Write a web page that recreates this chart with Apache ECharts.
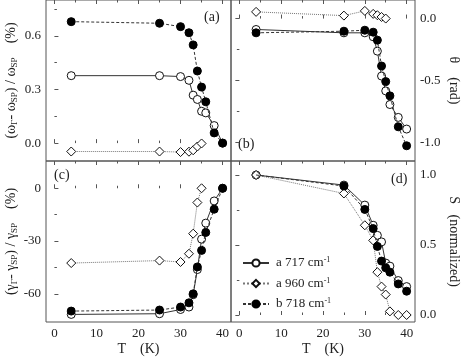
<!DOCTYPE html>
<html>
<head>
<meta charset="utf-8">
<script src="https://cdn.jsdelivr.net/npm/echarts@6/dist/echarts.min.js"></script>
<style>
  html, body { margin: 0; padding: 0; background: #fff; }
  #chart { width: 463px; height: 358px; }
</style>
</head>
<body>
<div id="chart"></div>
<script>
// temperatures (K)
const temps = [4, 25, 30, 32, 33, 34, 35, 36, 38, 40];
const temps960 = [4, 25, 30, 32, 33, 34, 35];

// (a) frequency shift (%)
const omegaA717 = [0.377, 0.377, 0.372, 0.351, 0.268, 0.244, 0.178, 0.169, 0.098, 0.0];
const omegaA960 = [-0.047, -0.047, -0.05, -0.048, -0.04, -0.019, -0.002];
const omegaB718 = [0.679, 0.670, 0.651, 0.617, 0.549, 0.403, 0.313, 0.231, 0.057, 0.0];

// (b) theta (rad)
const thetaA717 = [-0.088, -0.115, -0.115, -0.147, -0.263, -0.464, -0.584, -0.694, -0.798, -0.892];
const thetaA960 = [0.054, 0.024, 0.062, 0.038, 0.027, 0.013, 0.0];
const thetaB718 = [-0.115, -0.102, -0.094, -0.11, -0.174, -0.383, -0.509, -0.624, -0.874, -1.027];

// (c) linewidth change (%)
const gammaA717 = [-71.7, -71.3, -68.9, -67.5, -60.5, -46.2, -28.9, -19.8, -7.2, 0];
const gammaA960 = [-42.5, -41.1, -41.9, -37.2, -25.8, -8.1, 0];
const gammaB718 = [-69.8, -69.2, -67.5, -65.1, -60.0, -44.7, -35.3, -25.1, -11.9, 0];

// (d) S normalized
const sA717 = [1.0, 0.928, 0.785, 0.641, 0.569, 0.522, 0.371, 0.349, 0.246, 0.203];
const sA960 = [1.0, 0.868, 0.641, 0.533, 0.306, 0.203, 0.146, 0.026, 0.0, 0.0];
const sB718 = [1.0, 0.921, 0.754, 0.617, 0.49, 0.385, 0.337, 0.306, 0.222, 0.17];

// ticks
const xMajor = [0, 10, 20, 30, 40];
const xMinor = [5, 15, 25, 35];
const yMajorA = [0, 0.3, 0.6], yMinorA = [0.15, 0.45, 0.75];
const yMajorB = [0, -0.5, -1.0], yMinorB = [-0.25, -0.75];
const yMajorC = [0, -30, -60], yMinorC = [-15, -45];
const yMajorD = [0, 0.5, 1.0], yMinorD = [0.25, 0.75];

const FONT = "Liberation Serif";
const INK = "#222";
const FRAME = "#555";

const grids = [
  { left: 46, top: 0, width: 185, height: 161 },
  { left: 231, top: 0, width: 184, height: 161 },
  { left: 46, top: 161, width: 185, height: 161 },
  { left: 231, top: 161, width: 184, height: 161 }
];

const panels = [
  {
    ymin: -0.1, ymax: 0.8, major: yMajorA, minor: yMinorA, pos: "left", fmt: v => v.toFixed(1),
    name: "(ω{sub|Γ}- ω{sub|SP}) / ω{sub|SP}    (%)", gap: 27, rotate: 90,
    a717: omegaA717, a960: omegaA960, b718: omegaB718, t960: temps960
  },
  {
    ymin: -1.15, ymax: 0.15, major: yMajorB, minor: yMinorB, pos: "right", fmt: v => v.toFixed(1),
    name: "θ    (rad)", gap: 32, rotate: -90,
    a717: thetaA717, a960: thetaA960, b718: thetaB718, t960: temps960
  },
  {
    ymin: -76, ymax: 15.5, major: yMajorC, minor: yMinorC, pos: "left", fmt: v => String(v),
    name: "(γ{sub|Γ}- γ{sub|SP}) / γ{sub|SP}    (%)", gap: 27, rotate: 90,
    a717: gammaA717, a960: gammaA960, b718: gammaB718, t960: temps960
  },
  {
    ymin: -0.05, ymax: 1.1, major: yMajorD, minor: yMinorD, pos: "right", fmt: v => v.toFixed(1),
    name: "S   (normalized)", gap: 32, rotate: -90,
    a717: sA717, a960: sA960, b718: sB718, t960: temps
  }
];

const nameRich = {
  sub: { fontFamily: FONT, fontSize: 9, color: INK, verticalAlign: "bottom", padding: [6, 0, 0, 0] }
};

let xAxes = [], yAxes = [], series = [];

grids.forEach((g, i) => {
  const p = panels[i];
  const bottomRow = i >= 2;
  [["bottom", xMajor, 4], ["bottom", xMinor, 2.5], ["top", xMajor, 4], ["top", xMinor, 2.5]].forEach((d, k) => {
    const withLabel = bottomRow && k === 0;
    xAxes.push({
      type: "value", gridIndex: i, position: d[0], min: -2, max: 42,
      axisLine: { show: false },
      splitLine: { show: false },
      axisTick: { show: true, inside: true, length: d[2], customValues: d[1], lineStyle: { color: FRAME } },
      axisLabel: {
        show: withLabel, customValues: xMajor, margin: 5,
        fontFamily: FONT, fontSize: 13, color: INK
      },
      name: withLabel ? "T    (K)" : "",
      nameLocation: "middle", nameGap: 20,
      nameTextStyle: { fontFamily: FONT, fontSize: 14, color: INK }
    });
  });
  [[p.major, 4, true], [p.minor, 2.5, false]].forEach(d => {
    yAxes.push({
      type: "value", gridIndex: i, position: p.pos, min: p.ymin, max: p.ymax,
      axisLine: { show: false },
      splitLine: { show: false },
      axisTick: { show: true, inside: true, length: d[1], customValues: d[0], lineStyle: { color: FRAME } },
      axisLabel: {
        show: d[2], customValues: p.major, margin: 5, formatter: p.fmt,
        fontFamily: FONT, fontSize: 13, color: INK
      },
      name: d[2] ? p.name : "",
      nameLocation: "middle", nameGap: p.gap, nameRotate: p.rotate,
      nameTextStyle: { fontFamily: FONT, fontSize: 14, color: INK, rich: nameRich }
    });
  });

  const xi = i * 4, yi = i * 2;
  const pair = (ts, vs) => ts.map((t, j) => [t, vs[j]]);
  series.push({
    name: "a717", type: "line", xAxisIndex: xi, yAxisIndex: yi,
    data: pair(temps, p.a717),
    symbol: "circle", symbolSize: 8,
    itemStyle: { color: "#fff", borderColor: "#111", borderWidth: 1 },
    lineStyle: { color: "#333", width: 1, type: "solid" },
    z: 2
  });
  series.push({
    name: "a960", type: "line", xAxisIndex: xi, yAxisIndex: yi,
    data: pair(p.t960, p.a960),
    symbol: "diamond", symbolSize: 9,
    itemStyle: { color: "#fff", borderColor: "#111", borderWidth: 1 },
    lineStyle: { color: "#777", width: 1, type: "dotted" },
    z: 2
  });
  const bData = pair(temps, p.b718);
  if (i === 3) bData[0] = { value: bData[0], symbol: "none" };
  series.push({
    name: "b718", type: "line", xAxisIndex: xi, yAxisIndex: yi,
    data: bData,
    symbol: "circle", symbolSize: 8,
    itemStyle: { color: "#000", borderColor: "#000", borderWidth: 1 },
    lineStyle: { color: "#333", width: 1, type: [3, 2] },
    z: 3
  });
});

const legendNames = {
  a717: "a 717 cm{sup|-1}",
  a960: "a 960 cm{sup|-1}",
  b718: "b 718 cm{sup|-1}"
};

const option = {
  animation: false,
  backgroundColor: "#fff",
  grid: grids.map(g => Object.assign({ show: true, borderColor: FRAME, borderWidth: 1, backgroundColor: "transparent" }, g)),
  xAxis: xAxes,
  yAxis: yAxes,
  legend: {
    orient: "vertical", left: 237, top: 251,
    itemWidth: 26, itemHeight: 9, itemGap: 7,
    data: ["a717", "a960", "b718"],
    formatter: n => legendNames[n],
    textStyle: {
      fontFamily: FONT, fontSize: 13, color: INK, padding: [0, 0, 0, 2],
      rich: { sup: { fontFamily: FONT, fontSize: 8, color: INK, verticalAlign: "top", padding: [0, 0, 6, 0] } }
    }
  },
  graphic: [
    { type: "text", left: 204, top: 10, style: { text: "(a)", font: "14px " + FONT, fill: INK } },
    { type: "text", left: 238, top: 137, style: { text: "(b)", font: "14px " + FONT, fill: INK } },
    { type: "text", left: 54, top: 168, style: { text: "(c)", font: "14px " + FONT, fill: INK } },
    { type: "text", left: 391, top: 172, style: { text: "(d)", font: "14px " + FONT, fill: INK } }
  ],
  series: series
};

const myChart = echarts.init(document.getElementById("chart"));
myChart.setOption(option);
</script>
</body>
</html>
